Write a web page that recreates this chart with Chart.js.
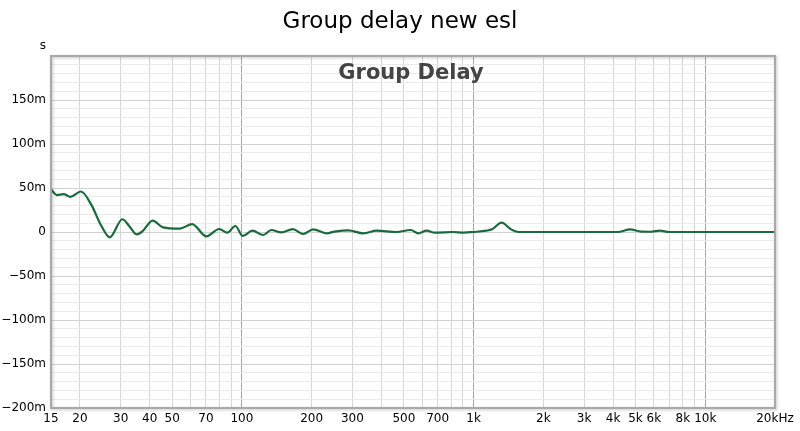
<!DOCTYPE html>
<html>
<head>
<meta charset="utf-8">
<title>Group delay new esl</title>
<script src="https://cdn.jsdelivr.net/npm/chart.js@4.4.1/dist/chart.umd.min.js"></script>
<style>
  html, body { margin: 0; padding: 0; background: #fff; }
  #wrap { width: 800px; height: 431px; position: relative; }
</style>
</head>
<body>
<div id="wrap"><canvas id="gd"></canvas></div>
<script>
  const TITLE = 'Group delay new esl';
  const PLOT_LABEL = 'Group Delay';

  // frequency (Hz) and group delay (ms)
  const freqs = [15, 15.9, 17, 18.2, 20.2, 22.5, 24.4, 26.9, 30.5, 32.8, 35.1, 37.2, 41.2, 45.6, 54, 61,
    70.3, 79.8, 86.5, 93.7, 100.9, 111, 123.6, 134, 148, 166, 184, 203, 232, 251, 288, 334, 382, 465,
    535, 577, 627, 681, 816, 905, 1000, 1137, 1200, 1321, 1450, 1560, 2000, 3000, 4000, 4300, 4725,
    5300, 5800, 6370, 7000, 8000, 10000, 20000];
  const delays = [48.5, 42, 43, 40, 46, 30, 10, -6, 14.5, 6, -2.6, 0.8, 13, 5.3, 3.8, 9,
    -5, 3.4, -0.8, 6.8, -4.5, 1.5, -3.4, 2.3, -0.5, 3.2, -2.3, 3, -1.5, 0.4, 1.9, -1.5, 1.5, 0,
    2.3, -1.5, 1.5, -0.8, 0, -0.8, 0, 1.5, 3, 10.6, 3, 0, 0, 0, 0, 0.3, 3,
    0.4, 0.3, 1.5, 0, 0, 0, 0];

  // x grid lines and the labelled ones
  const gridFreqs = [15, 20, 30, 40, 50, 60, 70, 80, 90, 100, 200, 300, 400, 500, 600, 700, 800, 900,
    1000, 2000, 3000, 4000, 5000, 6000, 7000, 8000, 9000, 10000, 20000];
  const labelFreqs = [15, 20, 30, 40, 50, 70, 100, 200, 300, 500, 700, 1000, 2000, 3000, 4000, 5000, 6000, 8000, 10000, 20000];
  const labelText = ['15', '20', '30', '40', '50', '70', '100', '200', '300', '500', '700', '1k', '2k', '3k', '4k', '5k', '6k', '8k', '10k', '20kHz'];

  // y axis, in ms
  const yMin = -200, yMax = 200, yStep = 10;
  const yLabelValues = [-200, -150, -100, -50, 0, 50, 100, 150];
  const yLabelText = ['\u2212200m', '\u2212150m', '\u2212100m', '\u221250m', '0', '50m', '100m', '150m'];

  const FONT = '"DejaVu Sans", "Lucida Grande", Verdana, sans-serif';

  const decorations = {
    id: 'decorations',
    afterDraw(chart) {
      const ctx = chart.ctx;
      const a = chart.chartArea;
      ctx.save();
      // frame with soft shadow
      ctx.shadowColor = 'rgba(0,0,0,0.25)';
      ctx.shadowBlur = 3;
      ctx.shadowOffsetX = 1;
      ctx.shadowOffsetY = 1;
      ctx.strokeStyle = '#a9a9a9';
      ctx.lineWidth = 2;
      ctx.strokeRect(a.left, a.top, a.right - a.left, a.bottom - a.top);
      ctx.shadowColor = 'transparent';

      ctx.fillStyle = '#000';
      ctx.textAlign = 'center';
      ctx.textBaseline = 'alphabetic';
      ctx.font = '23px ' + FONT;
      ctx.fillText(TITLE, 400, 28);

      ctx.fillStyle = '#444';
      ctx.font = 'bold 21px ' + FONT;
      ctx.fillText(PLOT_LABEL, 411, 79);

      ctx.fillStyle = '#000';
      ctx.font = '12px ' + FONT;
      ctx.textBaseline = 'middle';
      ctx.fillText('s', 43, 46);
      ctx.restore();
    }
  };

  const points = freqs.map((f, i) => ({ x: f, y: delays[i] }));

  new Chart(document.getElementById('gd'), {
    type: 'line',
    data: {
      datasets: [{
        data: points,
        borderColor: '#1b6a3c',
        borderWidth: 2.2,
        pointRadius: 0,
        fill: false,
        cubicInterpolationMode: 'monotone'
      }]
    },
    options: {
      responsive: true,
      maintainAspectRatio: false,
      animation: false,
      layout: { padding: { top: 56, right: 25, left: 0, bottom: 0 } },
      plugins: { legend: { display: false }, tooltip: { enabled: false }, title: { display: false } },
      scales: {
        x: {
          type: 'logarithmic',
          min: 15,
          max: 20000,
          afterBuildTicks(axis) { axis.ticks = gridFreqs.map(v => ({ value: v })); },
          afterFit(axis) { axis.height = 23; },
          border: { display: false },
          grid: {
            drawTicks: false,
            lineWidth: 1,
            color: ctx => {
              const v = ctx.tick && ctx.tick.value;
              return (v === 100 || v === 1000 || v === 10000) ? '#a8a8a8' : '#d6d6d6';
            }
          },
          ticks: {
            autoSkip: false,
            maxRotation: 0,
            padding: 4,
            color: '#000',
            font: { family: FONT, size: 12 },
            callback: v => {
              const i = labelFreqs.indexOf(v);
              return i >= 0 ? labelText[i] : '';
            }
          }
        },
        y: {
          min: yMin,
          max: yMax,
          afterFit(axis) { axis.width = 51; },
          border: { display: false },
          grid: {
            drawTicks: false,
            color: ctx => {
              const v = ctx.tick && ctx.tick.value;
              return (v % 50 === 0) ? '#d2d2d2' : '#ebebeb';
            }
          },
          ticks: {
            stepSize: yStep,
            autoSkip: false,
            padding: 5,
            color: '#000',
            font: { family: FONT, size: 12 },
            callback: v => {
              const i = yLabelValues.indexOf(v);
              return i >= 0 ? yLabelText[i] : '';
            }
          }
        }
      }
    },
    plugins: [decorations]
  });
</script>
</body>
</html>
